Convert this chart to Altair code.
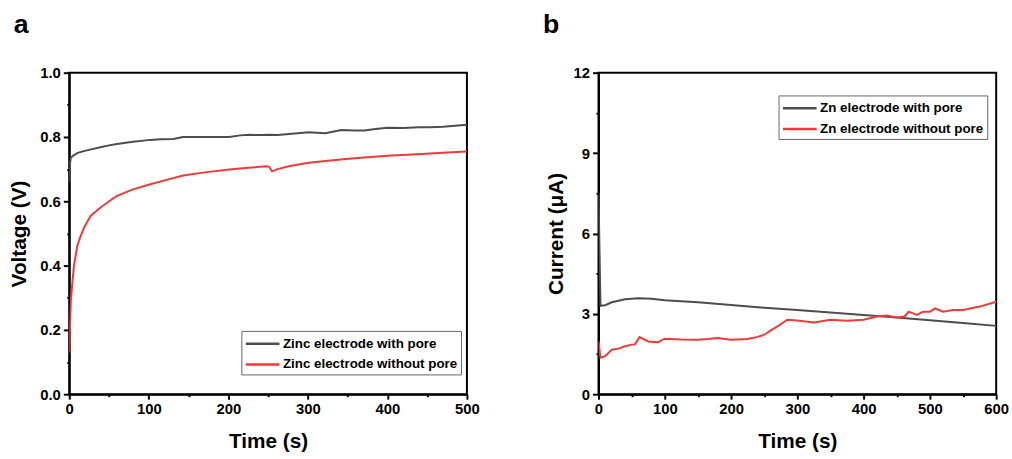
import altair as alt
import pandas as pd

# ---------------- data ----------------
series_a = ["Zinc electrode with pore", "Zinc electrode without pore"]
series_b = ["Zn electrode with pore", "Zn electrode without pore"]

a_t_gray = [0, 1, 2, 5, 10, 18, 25, 39, 50, 60, 80, 102, 115, 131, 143, 160, 180, 201, 215, 226,
            240, 251, 262, 280, 301, 322, 342, 360, 371, 385, 400, 420, 440, 454, 470, 485, 500]
a_v_gray = [0.66, 0.72, 0.735, 0.742, 0.75, 0.756, 0.76, 0.768, 0.774, 0.778, 0.785, 0.791, 0.793,
            0.794, 0.80, 0.80, 0.80, 0.80, 0.805, 0.807, 0.806, 0.807, 0.806, 0.81, 0.815, 0.812,
            0.822, 0.82, 0.82, 0.825, 0.829, 0.828, 0.83, 0.83, 0.832, 0.835, 0.838]

a_t_red = [0, 1, 2, 4, 6, 10, 14, 19, 27, 39, 50, 60, 80, 102, 120, 143, 170, 201, 225, 247, 251,
           255, 262, 276, 301, 325, 351, 375, 400, 425, 454, 475, 500]
a_v_red = [0.13, 0.22, 0.29, 0.35, 0.40, 0.46, 0.49, 0.52, 0.555, 0.58, 0.60, 0.617, 0.637, 0.653,
           0.665, 0.68, 0.69, 0.699, 0.704, 0.709, 0.708, 0.693, 0.70, 0.709, 0.72, 0.726, 0.732,
           0.737, 0.742, 0.745, 0.749, 0.752, 0.755]

b_t_gray = [0, 0.5, 3, 10, 20, 40, 60, 80, 100, 150, 200, 250, 300, 350, 400, 450, 500, 550, 600]
b_v_gray = [7.5, 6.8, 3.3, 3.32, 3.43, 3.54, 3.58, 3.56, 3.51, 3.43, 3.33, 3.23, 3.14, 3.05, 2.96,
            2.86, 2.76, 2.66, 2.55]

b_t_red = [0, 3, 10, 20, 30, 40, 50, 55, 62, 75, 90, 100, 125, 150, 165, 180, 200, 225, 240, 250,
           260, 270, 285, 300, 325, 350, 375, 400, 420, 435, 450, 462, 468, 480, 490, 500, 508, 520,
           535, 550, 575, 600]
b_v_red = [1.97, 1.36, 1.42, 1.66, 1.70, 1.79, 1.85, 1.86, 2.13, 1.97, 1.94, 2.07, 2.04, 2.03, 2.06,
           2.10, 2.03, 2.06, 2.14, 2.22, 2.38, 2.53, 2.78, 2.75, 2.68, 2.78, 2.74, 2.78, 2.90, 2.94,
           2.86, 2.90, 3.08, 2.96, 3.08, 3.08, 3.20, 3.08, 3.14, 3.14, 3.27, 3.45]

x_ticks_a = list(range(0, 501, 50))
y_ticks_a = [i / 10 for i in range(0, 11)]
x_ticks_b = list(range(0, 601, 50))
y_ticks_b = [i * 1.5 for i in range(0, 9)]

GRAY = "#4d4d4d"
RED = "#ee3a3a"
FONT = "Liberation Sans"

df_a = pd.concat([
    pd.DataFrame({"t": a_t_gray, "v": a_v_gray, "s": series_a[0]}),
    pd.DataFrame({"t": a_t_red, "v": a_v_red, "s": series_a[1]}),
])
df_b = pd.concat([
    pd.DataFrame({"t": b_t_gray, "v": b_v_gray, "s": series_b[0]}),
    pd.DataFrame({"t": b_t_red, "v": b_v_red, "s": series_b[1]}),
])


def mk_axis(values, test, fmt, title, tpad, major=6):
    return alt.Axis(
        values=values,
        labelExpr=f"({test}) ? format(datum.value, '{fmt}') : ''",
        tickSize={"condition": {"test": test, "value": major}, "value": 2.5},
        tickWidth=2, tickColor="black",
        domainColor="black", domainWidth=2,
        labelFont=FONT, labelFontSize=15, labelFontWeight="bold", labelColor="black",
        labelPadding=3, labelOverlap=False, labelFlush=False,
        title=title, titleFont=FONT, titleFontSize=21, titleFontWeight="bold",
        titleColor="black", titlePadding=tpad, grid=False,
    )


def mk_legend(lx, ly):
    return alt.Legend(
        orient="none", legendX=lx, legendY=ly, title=None,
        strokeColor="#666", fillColor="white", padding=3,
        symbolType="M-1,0H3", symbolSize=289, symbolStrokeWidth=2.5,
        labelFont=FONT, labelFontSize=13.5, labelFontWeight="bold", labelColor="black",
        labelOffset=19, rowPadding=4, labelLimit=400,
    )


def panel(df, names, xdom, ydom, xticks, yticks, xtest, ytest, yfmt, ytitle, ytpad,
          lx, ly, label):
    return alt.Chart(df).mark_line(strokeWidth=2, clip=True).encode(
        x=alt.X("t:Q", scale=alt.Scale(domain=xdom, nice=False, zero=False),
                axis=mk_axis(xticks, xtest, "d", "Time (s)", 14, 5)),
        y=alt.Y("v:Q", scale=alt.Scale(domain=ydom, nice=False, zero=False),
                axis=mk_axis(yticks, ytest, yfmt, ytitle, ytpad, 6)),
        color=alt.Color("s:N", scale=alt.Scale(domain=names, range=[GRAY, RED]),
                        legend=mk_legend(lx, ly)),
        detail="s:N",
    ).properties(
        width=402, height=325,
        title=alt.TitleParams(label, anchor="start", frame="group", dx=-56, offset=27,
                              fontSize=27, font=FONT, fontWeight="bold", color="black"),
    )


pa = panel(df_a, series_a, [0, 500], [0, 1], x_ticks_a, y_ticks_a,
           "datum.value % 100 == 0", "round(datum.value * 10) % 2 == 0", ".1f",
           "Voltage (V)", 10, 174, 261, "a")
pb = panel(df_b, series_b, [0, 600], [0, 12], x_ticks_b, y_ticks_b,
           "datum.value % 100 == 0", "datum.value % 3 == 0", "d",
           "Current (μA)", 7, 182, 23, "b")

chart = alt.hconcat(pa, pb, spacing=62).resolve_scale(color="independent").properties(
    padding={"left": 8, "top": 8, "right": 2, "bottom": 2},
    background="white",
).configure_view(stroke="black", strokeWidth=2)

chart.save("out.html", embed_options={"renderer": "svg", "actions": False})
